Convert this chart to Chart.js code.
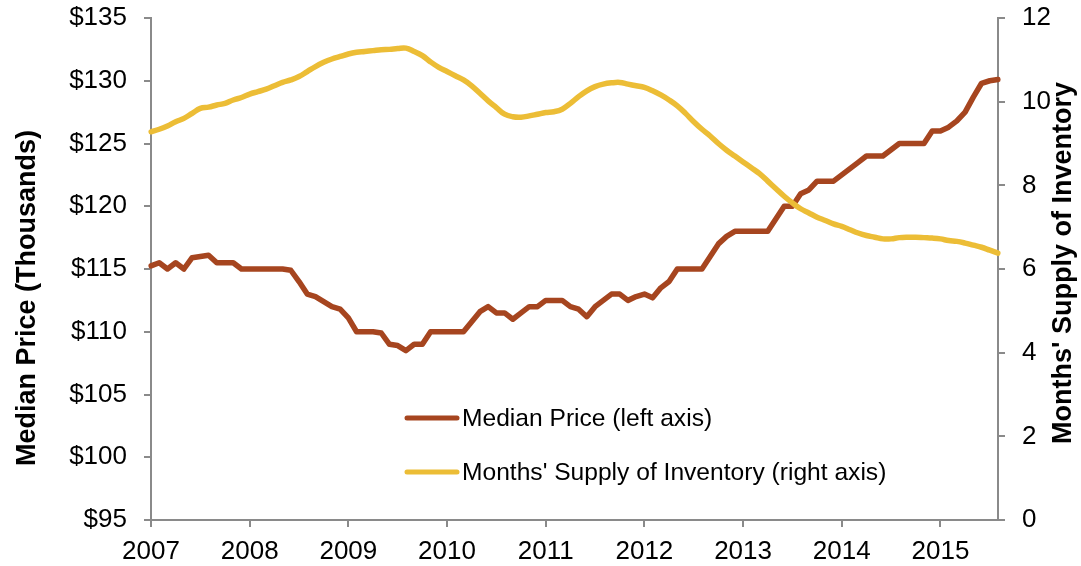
<!DOCTYPE html>
<html>
<head>
<meta charset="utf-8">
<script src="https://cdn.jsdelivr.net/npm/chart.js@4.4.1/dist/chart.umd.min.js"></script>
<style>
  html, body { margin: 0; padding: 0; background: #fff; }
  #wrap { width: 1081px; height: 566px; position: relative; }
</style>
</head>
<body>
<div id="wrap"><canvas id="chart"></canvas></div>
<script>
// years shown on the x axis, data is monthly from Jan 2007 to Aug 2015
const years = ['2007', '2008', '2009', '2010', '2011', '2012', '2013', '2014', '2015'];
const monthNames = ['Jan', 'Feb', 'Mar', 'Apr', 'May', 'Jun', 'Jul', 'Aug', 'Sep', 'Oct', 'Nov', 'Dec'];

// median price, thousands of dollars (left axis)
const medianPrice = [
    115.25, 115.5, 115, 115.5, 115, 115.9, 116, 116.1, 115.5, 115.5, 115.5, 115,
    115, 115, 115, 115, 115, 114.9, 114, 113, 112.8, 112.4, 112, 111.8,
    111.1, 110, 110, 110, 109.9, 109, 108.9, 108.5, 109, 109, 110, 110,
    110, 110, 110, 110.8, 111.6, 112, 111.5, 111.5, 111, 111.5, 112, 112,
    112.5, 112.5, 112.5, 112, 111.8, 111.2, 112, 112.5, 113, 113, 112.5, 112.8,
    113, 112.7, 113.5, 114, 115, 115, 115, 115, 116, 117, 117.6, 118,
    118, 118, 118, 118, 119, 120, 120, 121, 121.3, 122, 122, 122,
    122.5, 123, 123.5, 124, 124, 124, 124.5, 125, 125, 125, 125, 126,
    126, 126.3, 126.8, 127.5, 128.7, 129.8, 130, 130.1
];

// months' supply of inventory (right axis)
const monthsSupply = [
    9.28, 9.34, 9.42, 9.52, 9.6, 9.72, 9.84, 9.87, 9.92, 9.96, 10.04, 10.1,
    10.18, 10.24, 10.3, 10.38, 10.46, 10.52, 10.6, 10.72, 10.84, 10.94, 11.02, 11.08,
    11.14, 11.18, 11.2, 11.22, 11.24, 11.25, 11.27, 11.28, 11.2, 11.1, 10.95, 10.82,
    10.72, 10.62, 10.52, 10.38, 10.2, 10.02, 9.86, 9.7, 9.64, 9.63, 9.66, 9.7,
    9.74, 9.76, 9.82, 9.96, 10.12, 10.26, 10.36, 10.42, 10.45, 10.46, 10.42, 10.38,
    10.34, 10.26, 10.16, 10.04, 9.9, 9.72, 9.52, 9.34, 9.18, 9.0, 8.84, 8.7,
    8.56, 8.42, 8.28, 8.1, 7.92, 7.74, 7.58, 7.44, 7.34, 7.24, 7.16, 7.08,
    7.02, 6.94, 6.86, 6.8, 6.76, 6.72, 6.72, 6.75, 6.76, 6.76, 6.75, 6.74,
    6.72, 6.68, 6.66, 6.62, 6.57, 6.52, 6.45, 6.38
];

const priceTicks = [95, 100, 105, 110, 115, 120, 125, 130, 135];
const supplyTicks = [0, 2, 4, 6, 8, 10, 12];

const months = [];
years.forEach(y => monthNames.forEach(m => months.push(m + ' ' + y)));
months.length = medianPrice.length;

const priceColor = '#A6451F';
const supplyColor = '#ECBD36';
const axisColor = '#8a8a8a';
const fontFamily = "'Liberation Sans', Arial, sans-serif";

Chart.defaults.font.family = fontFamily;
Chart.defaults.color = '#000';

// legend inside the plot plus the two rotated axis titles
const decorations = {
    id: 'decorations',
    afterDraw(chart) {
        const ctx = chart.ctx;
        const area = chart.chartArea;
        ctx.save();

        const items = [
            { label: 'Median Price (left axis)', color: priceColor, y: area.top + 400 },
            { label: "Months' Supply of Inventory (right axis)", color: supplyColor, y: area.top + 454 }
        ];
        const x0 = area.left + 256;
        items.forEach(it => {
            ctx.strokeStyle = it.color;
            ctx.lineWidth = 5;
            ctx.lineCap = 'round';
            ctx.beginPath();
            ctx.moveTo(x0, it.y);
            ctx.lineTo(x0 + 50, it.y);
            ctx.stroke();
            ctx.fillStyle = '#000';
            ctx.font = '24.6px ' + fontFamily;
            ctx.textAlign = 'left';
            ctx.textBaseline = 'middle';
            ctx.fillText(it.label, x0 + 55, it.y + 1);
        });

        ctx.font = 'bold 27px ' + fontFamily;
        ctx.textAlign = 'center';
        ctx.textBaseline = 'middle';
        ctx.fillStyle = '#000';

        ctx.save();
        ctx.translate(28, 298);
        ctx.rotate(-Math.PI / 2);
        ctx.fillText('Median Price (Thousands)', 0, 0);
        ctx.restore();

        ctx.save();
        ctx.translate(1064, 263);
        ctx.rotate(-Math.PI / 2);
        ctx.fillText("Months' Supply of Inventory", 0, 0);
        ctx.restore();

        ctx.restore();
    }
};

// fixed axis boxes so the plot area sits where the reference has it
function fitVertical(width) {
    return s => {
        s.width = width;
        s.paddingTop = 0;
        s.paddingBottom = 0;
    };
}

new Chart(document.getElementById('chart'), {
    type: 'line',
    data: {
        labels: months,
        datasets: [
            {
                label: 'Median Price (left axis)',
                data: medianPrice,
                yAxisID: 'y',
                borderColor: priceColor,
                borderWidth: 5.5,
                pointRadius: 0,
                tension: 0,
                borderJoinStyle: 'round',
                borderCapStyle: 'round',
                order: 1
            },
            {
                label: "Months' Supply of Inventory (right axis)",
                data: monthsSupply,
                yAxisID: 'y1',
                borderColor: supplyColor,
                borderWidth: 5.5,
                pointRadius: 0,
                tension: 0.4,
                borderJoinStyle: 'round',
                borderCapStyle: 'round',
                order: 0
            }
        ]
    },
    options: {
        responsive: true,
        maintainAspectRatio: false,
        animation: false,
        layout: { padding: { top: 18 } },
        plugins: {
            legend: { display: false },
            tooltip: { enabled: false }
        },
        scales: {
            x: {
                type: 'category',
                offset: false,
                afterFit: s => { s.height = 46; },
                grid: {
                    drawOnChartArea: false,
                    tickLength: 7,
                    lineWidth: 2,
                    tickColor: c => (c.index % 12 === 0 ? axisColor : 'rgba(0,0,0,0)')
                },
                border: { color: axisColor, width: 2 },
                ticks: {
                    autoSkip: false,
                    maxRotation: 0,
                    padding: 9,
                    font: { size: 26 },
                    callback: (v, i) => (i % 12 === 0 ? years[i / 12] : '')
                }
            },
            y: {
                position: 'left',
                min: priceTicks[0],
                max: priceTicks[priceTicks.length - 1],
                afterFit: fitVertical(151),
                afterBuildTicks: s => { s.ticks = priceTicks.map(v => ({ value: v })); },
                grid: { drawOnChartArea: false, tickLength: 7, lineWidth: 2, color: axisColor },
                border: { color: axisColor, width: 2 },
                ticks: {
                    padding: 17,
                    font: { size: 26 },
                    callback: v => '$' + v
                }
            },
            y1: {
                position: 'right',
                min: supplyTicks[0],
                max: supplyTicks[supplyTicks.length - 1],
                afterFit: fitVertical(83),
                afterBuildTicks: s => { s.ticks = supplyTicks.map(v => ({ value: v })); },
                grid: { drawOnChartArea: false, tickLength: 7, lineWidth: 2, color: axisColor },
                border: { color: axisColor, width: 2 },
                ticks: {
                    padding: 17,
                    font: { size: 26 }
                }
            }
        }
    },
    plugins: [decorations]
});
</script>
</body>
</html>
